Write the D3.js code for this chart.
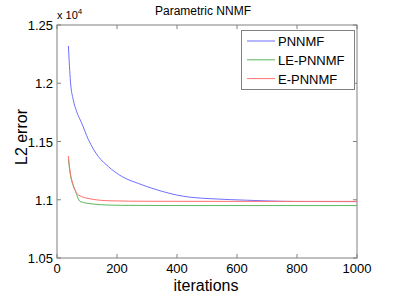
<!DOCTYPE html>
<html>
<head>
<meta charset="utf-8">
<script src="https://cdn.jsdelivr.net/npm/d3@7"></script>
<style>
  body { margin: 0; background: #fff; }
  text { font-family: "Liberation Sans", Arial, sans-serif; fill: #000; }
</style>
</head>
<body>
<script>
// values in units of 10^4
const pnnmfIter = [38, 45, 54, 65, 82, 104, 138, 171, 216, 271, 327, 421, 443, 520, 632, 700, 800, 1000];
const pnnmfVal = [1.232, 1.201, 1.186, 1.176, 1.166, 1.152, 1.137, 1.1285, 1.120, 1.114, 1.109, 1.103, 1.1022, 1.1008, 1.0996, 1.099, 1.0985, 1.0984];
const epnnmfIter = [38, 43, 54, 71, 110, 177, 300, 600, 1000];
const epnnmfVal = [1.1376, 1.1256, 1.1128, 1.1042, 1.1008, 1.0991, 1.0987, 1.0986, 1.0986];
const lepnnmfIter = [38, 43, 54, 60, 77, 121, 177, 216, 400, 700, 1000];
const lepnnmfVal = [1.135, 1.124, 1.112, 1.1085, 1.0985, 1.0963, 1.0954, 1.0952, 1.0950, 1.0950, 1.0950];
const xTicks = [0, 200, 400, 600, 800, 1000];
const yTicks = [1.05, 1.1, 1.15, 1.2, 1.25];
const seriesNames = ['PNNMF', 'LE-PNNMF', 'E-PNNMF'];
const seriesColors = ['#6f6fff', '#5cb85c', '#ff7070'];

const width = 395, height = 296;
const margin = { top: 25, right: 38, bottom: 38, left: 57 };

const svg = d3.select('body').append('svg')
  .attr('width', width)
  .attr('height', height);

const x = d3.scaleLinear().domain([0, 1000]).range([margin.left, width - margin.right]);
const y = d3.scaleLinear().domain([1.05, 1.25]).range([height - margin.bottom, margin.top]);

// axes box
const axisColor = '#808080';
svg.append('rect')
  .attr('x', x(0)).attr('y', y(1.25))
  .attr('width', x(1000) - x(0)).attr('height', y(1.05) - y(1.25))
  .attr('fill', 'none').attr('stroke', axisColor);

// inward ticks on all four sides
const tl = 4;
xTicks.forEach((t) => {
  svg.append('line').attr('x1', x(t)).attr('x2', x(t))
    .attr('y1', y(1.05)).attr('y2', y(1.05) - tl).attr('stroke', axisColor);
  svg.append('line').attr('x1', x(t)).attr('x2', x(t))
    .attr('y1', y(1.25)).attr('y2', y(1.25) + tl).attr('stroke', axisColor);
  svg.append('text').attr('x', x(t)).attr('y', y(1.05) + 15)
    .attr('text-anchor', 'middle').attr('font-size', 13).text(t);
});
yTicks.forEach((t) => {
  svg.append('line').attr('x1', x(0)).attr('x2', x(0) + tl)
    .attr('y1', y(t)).attr('y2', y(t)).attr('stroke', axisColor);
  svg.append('line').attr('x1', x(1000)).attr('x2', x(1000) - tl)
    .attr('y1', y(t)).attr('y2', y(t)).attr('stroke', axisColor);
  svg.append('text').attr('x', x(0) - 4).attr('y', y(t) + 5)
    .attr('text-anchor', 'end').attr('font-size', 13).text(String(t));
});

// lines
const line = d3.line().x((d) => x(d[0])).y((d) => y(d[1])).curve(d3.curveMonotoneX);
const series = [
  d3.zip(pnnmfIter, pnnmfVal),
  d3.zip(lepnnmfIter, lepnnmfVal),
  d3.zip(epnnmfIter, epnnmfVal),
];
series.forEach((s, i) => {
  svg.append('path').datum(s)
    .attr('d', line)
    .attr('fill', 'none')
    .attr('stroke', seriesColors[i])
    .attr('stroke-width', 1);
});

// title and labels
svg.append('text').attr('x', 203).attr('y', 15)
  .attr('text-anchor', 'middle').attr('font-size', 12).text('Parametric NNMF');
const exp = svg.append('text').attr('x', 57).attr('y', 19).attr('font-size', 11);
exp.append('tspan').text('x 10');
exp.append('tspan').attr('dy', -5).attr('font-size', 8).text('4');
svg.append('text').attr('x', 206).attr('y', 291)
  .attr('text-anchor', 'middle').attr('font-size', 16).text('iterations');
svg.append('text')
  .attr('transform', 'translate(27,' + 137 + ') rotate(-90)')
  .attr('text-anchor', 'middle').attr('font-size', 16).text('L2 error');

// legend
const lg = svg.append('g');
lg.append('rect').attr('x', 241.5).attr('y', 30.5).attr('width', 113).attr('height', 59)
  .attr('fill', '#fff').attr('stroke', axisColor);
seriesNames.forEach((name, i) => {
  const ly = 41 + i * 18.8;
  lg.append('line').attr('x1', 247).attr('x2', 275).attr('y1', ly).attr('y2', ly)
    .attr('stroke', seriesColors[i]);
  lg.append('text').attr('x', 278).attr('y', ly + 5).attr('font-size', 13).text(name);
});
</script>
</body>
</html>
